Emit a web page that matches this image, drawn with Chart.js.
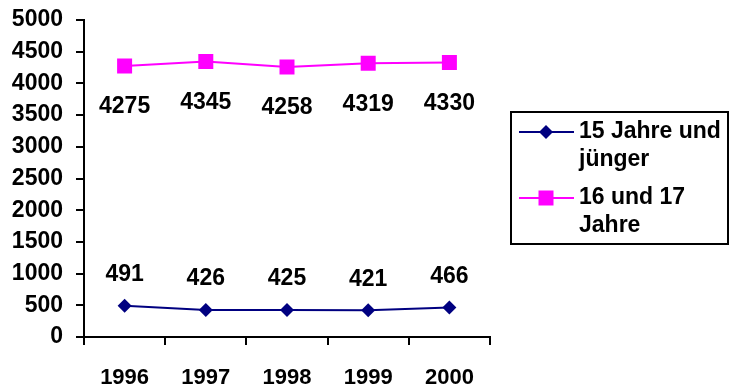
<!DOCTYPE html>
<html>
<head>
  <title>Altersgruppen 1996-2000</title>
  <style>
    body { margin: 0; background: #fff; }
    #wrap { width: 730px; height: 388px; position: relative; }
  </style>
</head>
<body>
  <div id="wrap"><canvas id="chart"></canvas></div>

  <script src="https://cdn.jsdelivr.net/npm/chart.js"></script>
  <script>
    // data
    const years = ['1996', '1997', '1998', '1999', '2000'];
    const young = [491, 426, 425, 421, 466];       // 15 Jahre und jünger
    const older = [4275, 4345, 4258, 4319, 4330];  // 16 und 17 Jahre
    const seriesNames = [['15 Jahre und', 'jünger'], ['16 und 17', 'Jahre']];
    const yMax = 5000;
    const yStep = 500;

    const FONT = '"Liberation Sans", Arial, sans-serif';

    // value labels next to each point
    const valueLabels = {
      id: 'valueLabels',
      afterDatasetsDraw(chart) {
        const ctx = chart.ctx;
        ctx.save();
        ctx.font = 'bold 23px ' + FONT;
        ctx.fillStyle = '#000';
        ctx.textAlign = 'center';
        ctx.textBaseline = 'middle';
        chart.data.datasets.forEach((ds, i) => {
          const meta = chart.getDatasetMeta(i);
          meta.data.forEach((pt, j) => {
            ctx.fillText(String(ds.data[j]), pt.x, pt.y + ds.labelOffset);
          });
        });
        ctx.restore();
      }
    };

    // boxed legend on the right
    const boxLegend = {
      id: 'boxLegend',
      afterDraw(chart) {
        const ctx = chart.ctx;
        ctx.save();
        ctx.lineWidth = 2;
        ctx.strokeStyle = '#000';
        ctx.strokeRect(511, 112, 217, 132);
        ctx.font = 'bold 23px ' + FONT;
        ctx.textBaseline = 'middle';
        ctx.textAlign = 'left';
        const rowY = [132, 198];
        chart.data.datasets.forEach((ds, i) => {
          const y = rowY[i];
          ctx.strokeStyle = ds.borderColor;
          ctx.lineWidth = 2;
          ctx.beginPath();
          ctx.moveTo(519, y);
          ctx.lineTo(574, y);
          ctx.stroke();
          ctx.fillStyle = ds.borderColor;
          ctx.beginPath();
          if (ds.pointStyle === 'rect') {
            ctx.rect(546 - 7.5, y - 7.5, 15, 15);
          } else {
            ctx.moveTo(546, y - 7);
            ctx.lineTo(553, y);
            ctx.lineTo(546, y + 7);
            ctx.lineTo(539, y);
            ctx.closePath();
          }
          ctx.fill();
          ctx.fillStyle = '#000';
          seriesNames[i].forEach((line, k) => {
            ctx.fillText(line, 579, y + k * 28);
          });
        });
        ctx.restore();
      }
    };

    new Chart(document.getElementById('chart'), {
      type: 'line',
      data: {
        labels: years,
        datasets: [
          {
            label: seriesNames[0].join(' '),
            data: young,
            borderColor: '#000080',
            backgroundColor: '#000080',
            borderWidth: 2,
            pointStyle: 'rectRot',
            pointRadius: 7,
            pointHoverRadius: 7,
            pointBorderWidth: 0,
            tension: 0,
            labelOffset: -31
          },
          {
            label: seriesNames[1].join(' '),
            data: older,
            borderColor: '#FF00FF',
            backgroundColor: '#FF00FF',
            borderWidth: 2,
            pointStyle: 'rect',
            pointRadius: 10.6,
            pointHoverRadius: 10.6,
            pointBorderWidth: 0,
            tension: 0,
            labelOffset: 41
          }
        ]
      },
      options: {
        responsive: true,
        maintainAspectRatio: false,
        animation: false,
        layout: { padding: { top: 20, right: 240, bottom: 0, left: 0 } },
        plugins: {
          legend: { display: false },
          tooltip: { enabled: false }
        },
        scales: {
          x: {
            offset: true,
            grid: {
              display: true,
              offset: true,
              drawOnChartArea: false,
              drawTicks: true,
              tickLength: 8,
              color: '#000',
              lineWidth: 2
            },
            border: { display: true, color: '#000', width: 2 },
            ticks: {
              color: '#000',
              padding: 20,
              maxRotation: 0,
              font: { family: FONT, size: 22, weight: 'bold' }
            },
            afterFit(scale) { scale.height = 51; }
          },
          y: {
            min: 0,
            max: yMax,
            grid: {
              display: true,
              drawOnChartArea: false,
              drawTicks: true,
              tickLength: 8,
              color: '#000',
              lineWidth: 2
            },
            border: { display: true, color: '#000', width: 2 },
            ticks: {
              stepSize: yStep,
              color: '#000',
              padding: 13,
              font: { family: FONT, size: 23, weight: 'bold' },
              callback: (v) => String(v)
            },
            afterFit(scale) {
              scale.width = 84;
              scale.paddingTop = 0;
            }
          }
        }
      },
      plugins: [valueLabels, boxLegend]
    });
  </script>
</body>
</html>
